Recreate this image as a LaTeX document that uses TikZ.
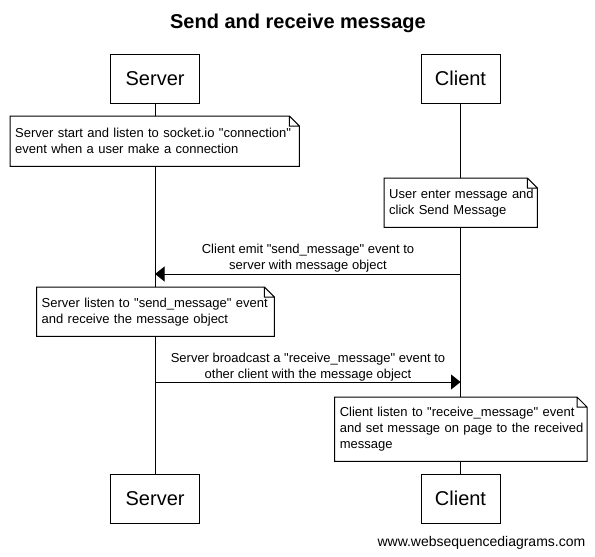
\documentclass[tikz,border=0pt]{standalone}
\usepackage{fontspec}
\setmainfont{Liberation Sans}
\usetikzlibrary{arrows.meta}
\newcommand{\dq}{\XeTeXglyph\XeTeXcharglyph"22\relax}
\tikzset{
  actor/.style={draw, line width=1pt, fill=white, minimum height=49pt, inner sep=0pt, font=\fontsize{20}{24}\selectfont},
  notebox/.style={fill=white, inner xsep=5pt, inner ysep=0pt, anchor=north west, align=left, font=\fontsize{13}{16}\selectfont},
  noteline/.style={line width=1pt, line join=miter},
  lifeline/.style={line width=1pt},
  msg/.style={line width=1pt, -{Triangle[length=9.5pt,width=15pt]}},
  msglabel/.style={align=center, inner sep=0pt, font=\fontsize{13}{16}\selectfont},
}
\begin{document}
\begin{tikzpicture}[x=1pt,y=-1pt]
\useasboundingbox (0,0) rectangle (595,557);
\node[font=\bfseries\fontsize{20}{24}\selectfont, inner sep=0pt] (title) at (298,23) {Send and receive message};
% actors
\node[actor, minimum width=89pt] (sTop) at (155.1,78.5) {Server};
\node[actor, minimum width=79pt] (cTop) at (460.5,78.5) {Client};
\node[actor, minimum width=89pt] (sBot) at (155.1,498.5) {Server};
\node[actor, minimum width=79pt] (cBot) at (460.5,498.5) {Client};
% lifelines
\draw[lifeline] (sTop) -- (sBot);
\draw[lifeline] (cTop) -- (cBot);
% notes
\node[notebox, text width=279pt, minimum height=50pt] (n1) at (10,116)
  {\mbox{Server start and listen to socket.io \dq connection\dq}\\\mbox{event when a user make a connection}};
\node[notebox, text width=143pt, minimum height=49pt] (n2) at (384,178)
  {\mbox{User enter message and}\\\mbox{click Send Message}};
\node[notebox, text width=227.5pt, minimum height=49pt] (n3) at (36.5,287)
  {\mbox{Server listen to \dq send\_message\dq{} event}\\\mbox{and receive the message object}};
\node[notebox, text width=242pt, minimum height=64pt] (n4) at (334.6,397)
  {\mbox{Client listen to \dq receive\_message\dq{} event}\\\mbox{and set message on page to the received}\\\mbox{message}};
\foreach \n in {n1,n2,n3,n4}
  \draw[noteline] (\n.north west) -- ([xshift=-10pt]\n.north east) -- ([yshift=-10pt]\n.north east) -- (\n.south east) -- (\n.south west) -- cycle
    ([xshift=-10pt]\n.north east) |- ([yshift=-10pt]\n.north east);
% messages
\coordinate (m1c) at (460.5,274);
\coordinate (m1s) at (155.1,274);
\coordinate (m2s) at (155.1,382);
\coordinate (m2c) at (460.5,382);
\draw[msg] (m1c) -- (m1s);
\node[msglabel] (l1) at (308,258) {Client emit \dq send\_message\dq{} event to\\server with message object};
\draw[msg] (m2s) -- (m2c);
\node[msglabel] (l2) at (308,367) {Server broadcast a \dq receive\_message\dq{} event to\\other client with the message object};
% watermark
\node[anchor=east, inner sep=0pt, font=\fontsize{14}{16}\selectfont] (wm) at (585.5,543) {www.websequencediagrams.com};
\end{tikzpicture}
\end{document}
